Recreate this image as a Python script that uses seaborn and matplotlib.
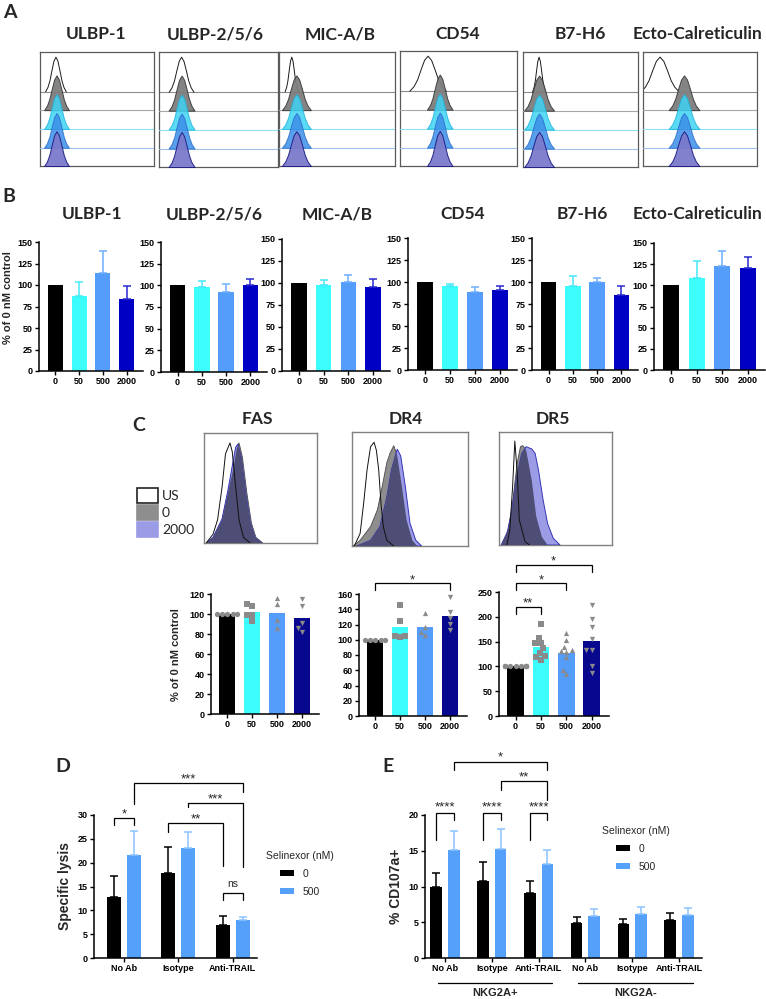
import numpy as np
import pandas as pd
import matplotlib
matplotlib.use("Agg")
import matplotlib.pyplot as plt
from matplotlib.patches import Rectangle
import seaborn as sns

# ------------------------------------------------------------------ data
doses = ["0", "50", "500", "2000"]
markers_A = ["ULBP-1", "ULBP-2/5/6", "MIC-A/B", "CD54", "B7-H6", "Ecto-Calreticulin"]

# Panel A: flow histogram peaks (centre / width as fraction of the log axis)
a_us_center = [0.14, 0.19, 0.11, 0.24, 0.14, 0.15]
a_us_width = [0.035, 0.040, 0.022, 0.060, 0.022, 0.065]
a_st_center = [0.145, 0.19, 0.15, 0.34, 0.14, 0.36]
a_st_width = [0.042, 0.042, 0.048, 0.042, 0.050, 0.052]
peak_shape_x = [-2.6, -2.0, -1.5, -1.0, -0.5, 0.0, 0.5, 1.0, 1.5, 2.0, 2.6]
peak_shape_y = [0.0, 0.13, 0.32, 0.61, 0.88, 1.0, 0.88, 0.61, 0.32, 0.13, 0.0]

# Panel B: % of 0 nM control (mean, upper SD)
b_ulbp1 = [100, 87, 114, 84];   b_ulbp1_err = [0, 16, 25, 15]
b_ulbp2 = [100, 98, 92, 100];   b_ulbp2_err = [0, 7, 10, 7]
b_mica = [100, 98, 101, 96];    b_mica_err = [0, 5, 8, 8]
b_cd54 = [100, 96, 89, 91];     b_cd54_err = [0, 2, 5, 4]
b_b7h6 = [100, 96, 100, 85];    b_b7h6_err = [0, 11, 4, 11]
b_ecto = [100, 109, 123, 120];  b_ecto_err = [0, 20, 17, 13]

# Panel C histograms (x, y as fraction of box)
fas_us_x = [0.02, 0.08, 0.12, 0.16, 0.19, 0.23, 0.25, 0.28, 0.31, 0.35, 0.41]
fas_us_y = [0, 0.08, 0.21, 0.51, 0.81, 0.91, 0.83, 0.51, 0.21, 0.05, 0]
fas_0_x = [0.02, 0.08, 0.16, 0.21, 0.26, 0.29, 0.31, 0.34, 0.38, 0.42, 0.46, 0.52]
fas_0_y = [0, 0.05, 0.21, 0.45, 0.68, 0.86, 0.91, 0.78, 0.45, 0.18, 0.05, 0]
fas_2000_x = [0.02, 0.08, 0.16, 0.21, 0.25, 0.28, 0.30, 0.33, 0.37, 0.41, 0.45, 0.51]
fas_2000_y = [0, 0.05, 0.22, 0.47, 0.70, 0.87, 0.90, 0.78, 0.45, 0.18, 0.05, 0]
dr4_us_x = [0.02, 0.07, 0.10, 0.13, 0.16, 0.19, 0.21, 0.23, 0.25, 0.27, 0.30, 0.36]
dr4_us_y = [0, 0.11, 0.37, 0.67, 0.87, 0.91, 0.84, 0.67, 0.37, 0.17, 0.05, 0]
dr4_0_x = [0.01, 0.07, 0.16, 0.22, 0.26, 0.30, 0.33, 0.36, 0.39, 0.43, 0.47, 0.52, 0.56]
dr4_0_y = [0, 0.05, 0.17, 0.32, 0.52, 0.73, 0.82, 0.88, 0.79, 0.52, 0.23, 0.05, 0]
dr4_2000_x = [0.04, 0.16, 0.24, 0.30, 0.34, 0.39, 0.42, 0.46, 0.50, 0.55, 0.60]
dr4_2000_y = [0, 0.05, 0.17, 0.43, 0.67, 0.85, 0.79, 0.52, 0.20, 0.05, 0]
dr5_us_x = [0.07, 0.095, 0.12, 0.14, 0.16, 0.18, 0.23, 0.27]
dr5_us_y = [0, 0.13, 0.51, 0.92, 0.66, 0.22, 0.03, 0]
dr5_0_x = [0.02, 0.08, 0.12, 0.16, 0.19, 0.21, 0.24, 0.29, 0.33, 0.38, 0.43]
dr5_0_y = [0, 0.13, 0.37, 0.72, 0.87, 0.88, 0.84, 0.57, 0.25, 0.07, 0]
dr5_2000_x = [0.02, 0.07, 0.11, 0.15, 0.20, 0.24, 0.29, 0.32, 0.35, 0.39, 0.43, 0.48, 0.54]
dr5_2000_y = [0, 0.10, 0.28, 0.57, 0.81, 0.87, 0.85, 0.81, 0.66, 0.40, 0.19, 0.06, 0]

# Panel C bars: individual donors
fas_pts = [[100, 100, 100, 100, 100], [110, 108, 99, 99, 93],
           [116, 110, 94, 86], [115, 108, 91, 86, 82]]
dr4_pts = [[100, 100, 100, 100, 100], [146, 125, 105, 105, 103],
           [135, 117, 110, 106], [156, 136, 129, 121, 113]]
dr5_pts = [[100, 100, 100, 100, 100, 100, 100, 100, 100, 100],
           [186, 157, 148, 147, 137, 128, 121, 118, 113],
           [167, 154, 140, 133, 131, 130, 118, 93, 84],
           [223, 196, 179, 155, 133, 133, 101, 86]]

# Panel D: specific lysis
d_groups = ["No Ab", "Isotype", "Anti-TRAIL"]
d_mean_0 = [12.9, 17.8, 6.9];   d_err_0 = [4.4, 5.5, 1.9]
d_mean_500 = [21.7, 23.0, 7.9]; d_err_500 = [4.9, 3.5, 0.6]

# Panel E: % CD107a+
e_groups = ["No Ab+", "Isotype+", "Anti-TRAIL+", "No Ab-", "Isotype-", "Anti-TRAIL-"]
e_ticklabels = ["No Ab", "Isotype", "Anti-TRAIL", "No Ab", "Isotype", "Anti-TRAIL"]
e_mean_0 = [9.9, 10.8, 9.1, 4.9, 4.7, 5.3]; e_err_0 = [2.0, 2.6, 1.7, 0.9, 0.8, 1.0]
e_mean_500 = [15.1, 15.2, 13.1, 5.9, 6.1, 6.0]; e_err_500 = [2.7, 2.9, 2.0, 1.0, 1.0, 1.0]

# ------------------------------------------------------------------ style
sns.set_theme(style="ticks")
plt.rcParams["font.family"] = ["Liberation Sans", "DejaVu Sans"]
TF = ["Lato", "DejaVu Sans"]

W, H = 766, 999
fig = plt.figure(figsize=(W / 100, H / 100), dpi=100)
fig.patch.set_facecolor("white")


def ax_px(x0, y0, x1, y1):
    return fig.add_axes([x0 / W, 1 - y1 / H, (x1 - x0) / W, (y1 - y0) / H])


def ftext(x, y, s, **kw):
    fig.text(x / W, 1 - y / H, s, **kw)


def style_bar_ax(ax, ylim, yticks, xlim):
    ax.set_ylim(*ylim)
    ax.set_yticks(yticks)
    ax.set_xlim(*xlim)
    for s in ["top", "right"]:
        ax.spines[s].set_visible(False)
    for s in ["left", "bottom"]:
        ax.spines[s].set_linewidth(1.1)
        ax.spines[s].set_color("black")
    ax.tick_params(axis="both", direction="out", length=3, width=1.0,
                   colors="black", labelsize=6.5, pad=1.5, bottom=True, left=True)
    for lab in ax.get_xticklabels() + ax.get_yticklabels():
        lab.set_fontweight("bold")
    ax.set_xlabel("")
    ax.set_ylabel("")
    ax.set_facecolor("none")


def bracket(ax, x1, x2, y, y1, y2, label, ty, fs=9.5, star=True):
    ax.plot([x1, x1, x2, x2], [y1, y, y, y2], color="black", lw=0.9,
            clip_on=False, solid_joinstyle="miter")
    off = -0.33 * fs if star else 0
    ax.annotate(label, xy=((x1 + x2) / 2, ty), xytext=(0, off),
                textcoords="offset points", ha="center", va="center",
                fontsize=fs, annotation_clip=False)


def centers(container):
    return [p.get_x() + p.get_width() / 2 for p in container if p is not None]


def bar_centers(ax):
    bars = [p for c in ax.containers for p in c if p is not None]
    return sorted(p.get_x() + p.get_width() / 2 for p in bars)


# ------------------------------------------------------------------ panel A
ftext(10, 13, "A", fontsize=14, fontweight="bold", family=TF, ha="center", va="center")
a_boxes = [(40, 52, 154, 166), (159, 52, 278, 167), (279, 52, 395, 166),
           (400, 51, 517, 166), (523, 52, 638, 167), (643, 52, 757, 166)]
a_title_x = [96, 215, 340, 458, 580, 697]
row_levels = [0.65, 0.49, 0.325, 0.16, 0.0]
row_face = [None, "#7d7d7d", "#3fd4f3", "#3d8ee8", "#7b7acb"]
row_edge = ["#1a1a1a", "#3a3a3a", "#1fb5dd", "#2a6fcc", "#1d1d86"]
row_alpha = [1, 0.95, 0.85, 0.85, 0.95]
row_base = ["#8c8c8c", "#a6a6a6", "#8fdff2", "#9fc3ef", None]
for i, m in enumerate(markers_A):
    ax = ax_px(*a_boxes[i])
    ax.set_xlim(0, 1); ax.set_ylim(0, 1)
    ax.set_xticks([]); ax.set_yticks([])
    for s in ax.spines.values():
        s.set_color("#5a5a5a"); s.set_linewidth(0.9)
    for r, lvl in enumerate(row_levels):
        c = a_us_center[i] if r == 0 else a_st_center[i]
        w = a_us_width[i] if r == 0 else a_st_width[i]
        xs = [c + w * k for k in peak_shape_x]
        ys = [lvl + 0.305 * k for k in peak_shape_y]
        if row_base[r]:
            ax.axhline(lvl, color=row_base[r], lw=0.8, zorder=2 * r + 1)
        if r == 0:
            ax.plot(xs, ys, color=row_edge[r], lw=0.7, zorder=2)
        else:
            ax.fill_between(xs, lvl, ys, facecolor=row_face[r], edgecolor=row_edge[r],
                            lw=0.7, alpha=row_alpha[r], zorder=2 * r + 2)
    ftext(a_title_x[i], 34, m, fontsize=12.5, fontweight="bold", family=TF,
          ha="center", va="center")

# ------------------------------------------------------------------ panel B
ftext(9, 197, "B", fontsize=14, fontweight="bold", family=TF, ha="center", va="center")
b_colors = ["#000000", "#3cfcfc", "#559dfb", "#0000c4"]
b_ecolors = ["#000000", "#45e8f8", "#6eaeff", "#2a2ad0"]
b_data = [(b_ulbp1, b_ulbp1_err), (b_ulbp2, b_ulbp2_err), (b_mica, b_mica_err),
          (b_cd54, b_cd54_err), (b_b7h6, b_b7h6_err), (b_ecto, b_ecto_err)]
b_rects = [(39, 242, 143, 371), (161, 242, 267, 372), (282, 239, 390, 371),
           (408, 238, 517, 370), (532, 238, 638, 370), (654, 243, 765, 370)]
b_title_x = [92, 214, 337, 463, 582, 697]
for i, (vals, errs) in enumerate(b_data):
    ax = ax_px(*b_rects[i])
    sns.barplot(x=doses, y=vals, order=doses, hue=doses, hue_order=doses,
                palette=b_colors, saturation=1, width=0.63, errorbar=None,
                legend=False, linewidth=0, ax=ax)
    xcs = bar_centers(ax)
    for k, xc in enumerate(xcs):
        if errs[k] > 0:
            ax.errorbar(xc, vals[k], yerr=[[0], [errs[k]]], fmt="none",
                        ecolor=b_ecolors[k], elinewidth=1.1, capsize=3.2, capthick=1.1)
    style_bar_ax(ax, (0, 150), [0, 25, 50, 75, 100, 125, 150], (-0.68, 3.68))
    ftext(b_title_x[i], 214, markers_A[i], fontsize=12.5, fontweight="bold", family=TF,
          ha="center", va="center")
ftext(8, 298, "% of 0 nM control", fontsize=8, fontweight="bold", rotation=90,
      ha="center", va="center")

# ------------------------------------------------------------------ panel C
ftext(139, 426, "C", fontsize=14, fontweight="bold", family=TF, ha="center", va="center")
c_hist = [("FAS", (204, 433, 317, 543), (fas_us_x, fas_us_y), (fas_0_x, fas_0_y), (fas_2000_x, fas_2000_y), 257),
          ("DR4", (352, 432, 468, 546), (dr4_us_x, dr4_us_y), (dr4_0_x, dr4_0_y), (dr4_2000_x, dr4_2000_y), 406),
          ("DR5", (499, 432, 612, 545), (dr5_us_x, dr5_us_y), (dr5_0_x, dr5_0_y), (dr5_2000_x, dr5_2000_y), 553)]
for name, box, us, g, p, tx in c_hist:
    ax = ax_px(*box)
    ax.set_xlim(0, 1); ax.set_ylim(0, 1)
    ax.set_xticks([]); ax.set_yticks([])
    for s in ax.spines.values():
        s.set_color("#808080"); s.set_linewidth(1.0)
    gp = ax.fill(g[0], g[1], facecolor="#8e8e8e", edgecolor="#4a4a4a", lw=0.6, zorder=2)[0]
    ax.fill(p[0], p[1], facecolor="#9c9ce6", edgecolor="#3535b5", lw=0.7, zorder=3)
    ov = ax.fill(p[0], p[1], facecolor="#4d4d75", edgecolor="none", zorder=4)[0]
    ov.set_clip_path(gp)
    ax.plot(us[0], us[1], color="#111111", lw=0.7, zorder=5)
    ftext(tx, 419, name, fontsize=12.5, fontweight="bold", family=TF, ha="center", va="center")

# legend for histograms
leg_items = [("US", "white", "#222222", 488), ("0", "#8e8e8e", "#8e8e8e", 505),
             ("2000", "#9c9ce6", "#9c9ce6", 522)]
for lab, fc, ec, y0 in leg_items:
    fig.patches.append(Rectangle((137 / W, 1 - (y0 + 15) / H), 21 / W, 15 / H,
                                 facecolor=fc, edgecolor=ec, lw=1.2,
                                 transform=fig.transFigure, figure=fig))
    ftext(162, y0 + 8, lab, fontsize=10, family=TF, ha="left", va="center")

c_colors = ["#000000", "#3cfcfc", "#559dfb", "#08088f"]
c_markers = ["o", "s", "^", "v"]
c_sets = [(fas_pts, (211, 594, 319, 714), (0, 120), list(range(0, 121, 20))),
          (dr4_pts, (359, 594, 467, 716), (0, 160), list(range(0, 161, 20))),
          (dr5_pts, (499, 592, 609, 716), (0, 250), list(range(0, 251, 50)))]
c_axes = []
for pts, rect, ylim, yt in c_sets:
    ax = ax_px(*rect)
    cat = [d for d, grp in zip(doses, pts) for _ in grp]
    val = [v for grp in pts for v in grp]
    sns.barplot(x=cat, y=val, order=doses, hue=cat, hue_order=doses, palette=c_colors,
                saturation=1, width=0.66, errorbar=None, legend=False, linewidth=0, ax=ax)
    for d, grp, mk in zip(doses, pts, c_markers):
        sns.swarmplot(x=[d] * len(grp), y=grp, order=doses, marker=mk, color="#8a8a8a",
                      size=3.8, linewidth=0, ax=ax, warn_thresh=1, zorder=3)
    style_bar_ax(ax, ylim, yt, (-0.65, 3.68))
    c_axes.append(ax)
ftext(176, 655, "% of 0 nM control", fontsize=8, fontweight="bold", rotation=90,
      ha="center", va="center")

ax = c_axes[1]
xs = bar_centers(ax)
bracket(ax, xs[0], xs[3], 174.4, 165.2, 165.2, "*", 183.6)
ax = c_axes[2]
xs = bar_centers(ax)
bracket(ax, xs[0], xs[1], 219.8, 205.6, 205.6, "**", 236)
bracket(ax, xs[0], xs[2], 268, 254, 254, "*", 282)
bracket(ax, xs[0], xs[3], 304, 290, 290, "*", 320)

# ------------------------------------------------------------------ panel D
ftext(63, 766, "D", fontsize=14, fontweight="bold", family=TF, ha="center", va="center")
blue = "#55a0f8"
df_d = pd.DataFrame({"Condition": d_groups * 2,
                     "Selinexor (nM)": ["0"] * 3 + ["500"] * 3,
                     "value": d_mean_0 + d_mean_500})
ax = ax_px(94, 815, 257, 958)
sns.barplot(data=df_d, x="Condition", y="value", hue="Selinexor (nM)", order=d_groups,
            hue_order=["0", "500"], palette=["#000000", blue], saturation=1,
            width=0.74, gap=0.3, errorbar=None, linewidth=0, ax=ax)
for cont, means, errs, ec in [(ax.containers[0], d_mean_0, d_err_0, "black"),
                              (ax.containers[1], d_mean_500, d_err_500, "#8cc2ff")]:
    for xc, m, e in zip(centers(cont), means, errs):
        ax.errorbar(xc, m, yerr=[[0], [e]], fmt="none", ecolor=ec,
                    elinewidth=1.1, capsize=3.2, capthick=1.1)
style_bar_ax(ax, (0, 30), [0, 5, 10, 15, 20, 25, 30], (-0.553, 2.45))
ax.set_ylabel("Specific lysis", fontsize=10, fontweight="bold", labelpad=4)
b0, b1 = centers(ax.containers[0]), centers(ax.containers[1])
bracket(ax, b0[0], b1[0], 29.4, 27.9, 27.9, "*", 31.0)
bracket(ax, b0[1], b0[2], 28.3, 26.4, 19.3, "**", 30.0)
bracket(ax, b1[1], b1[2], 32.5, 31.7, 19.1, "***", 34.2)
bracket(ax, b1[0], b1[2], 36.7, 32.3, 34.8, "***", 38.4)
bracket(ax, b0[2], b1[2], 13.6, 12.2, 12.2, "ns", 15.6, fs=7.5, star=False)
sns.move_legend(ax, loc="upper left", bbox_to_anchor=(266 / W, 1 - 851 / H),
                bbox_transform=fig.transFigure, frameon=False, fontsize=7.5,
                title_fontsize=7.5, handlelength=1.4, handleheight=0.55,
                labelspacing=0.75, handletextpad=0.8, borderpad=0, borderaxespad=0)

# ------------------------------------------------------------------ panel E
ftext(388, 766, "E", fontsize=14, fontweight="bold", family=TF, ha="center", va="center")
df_e = pd.DataFrame({"Condition": e_groups * 2,
                     "Selinexor (nM)": ["0"] * 6 + ["500"] * 6,
                     "value": e_mean_0 + e_mean_500})
ax = ax_px(425, 815, 702, 958)
sns.barplot(data=df_e, x="Condition", y="value", hue="Selinexor (nM)", order=e_groups,
            hue_order=["0", "500"], palette=["#000000", blue], saturation=1,
            width=0.75, gap=0.34, errorbar=None, linewidth=0, ax=ax)
for cont, means, errs, ec in [(ax.containers[0], e_mean_0, e_err_0, "black"),
                              (ax.containers[1], e_mean_500, e_err_500, "#8cc2ff")]:
    for xc, m, e in zip(centers(cont), means, errs):
        ax.errorbar(xc, m, yerr=[[0], [e]], fmt="none", ecolor=ec,
                    elinewidth=1.1, capsize=3.2, capthick=1.1)
ax.set_xticks(range(len(e_groups)))
ax.set_xticklabels(e_ticklabels)
style_bar_ax(ax, (0, 20), [0, 5, 10, 15, 20], (-0.427, 5.49))
ax.set_ylabel("% CD107a+", fontsize=10, fontweight="bold", labelpad=4)
b0, b1 = centers(ax.containers[0]), centers(ax.containers[1])
for k in range(3):
    bracket(ax, b0[k], b1[k], 20.3, 16.5, 19.3, "****", 21.7)
bracket(ax, b1[1], b1[2], 24.8, 23.5, 22.1, "**", 25.9)
bracket(ax, b1[0], b1[2], 27.4, 26.3, 26.3, "*", 28.7)
trans = ax.get_xaxis_transform()
for xa, xb, lab in [(-0.15, 2.29, "NKG2A+"), (2.84, 5.30, "NKG2A-")]:
    ax.plot([xa, xb], [-0.175, -0.175], color="black", lw=0.9, transform=trans, clip_on=False)
    ax.text((xa + xb) / 2, -0.245, lab, transform=trans, ha="center", va="center",
            fontsize=8, fontweight="bold", clip_on=False)
sns.move_legend(ax, loc="upper left", bbox_to_anchor=(602 / W, 1 - 826 / H),
                bbox_transform=fig.transFigure, frameon=False, fontsize=7.5,
                title_fontsize=7.5, handlelength=1.4, handleheight=0.55,
                labelspacing=0.75, handletextpad=0.8, borderpad=0, borderaxespad=0)

fig.savefig("out.png", dpi=100)
